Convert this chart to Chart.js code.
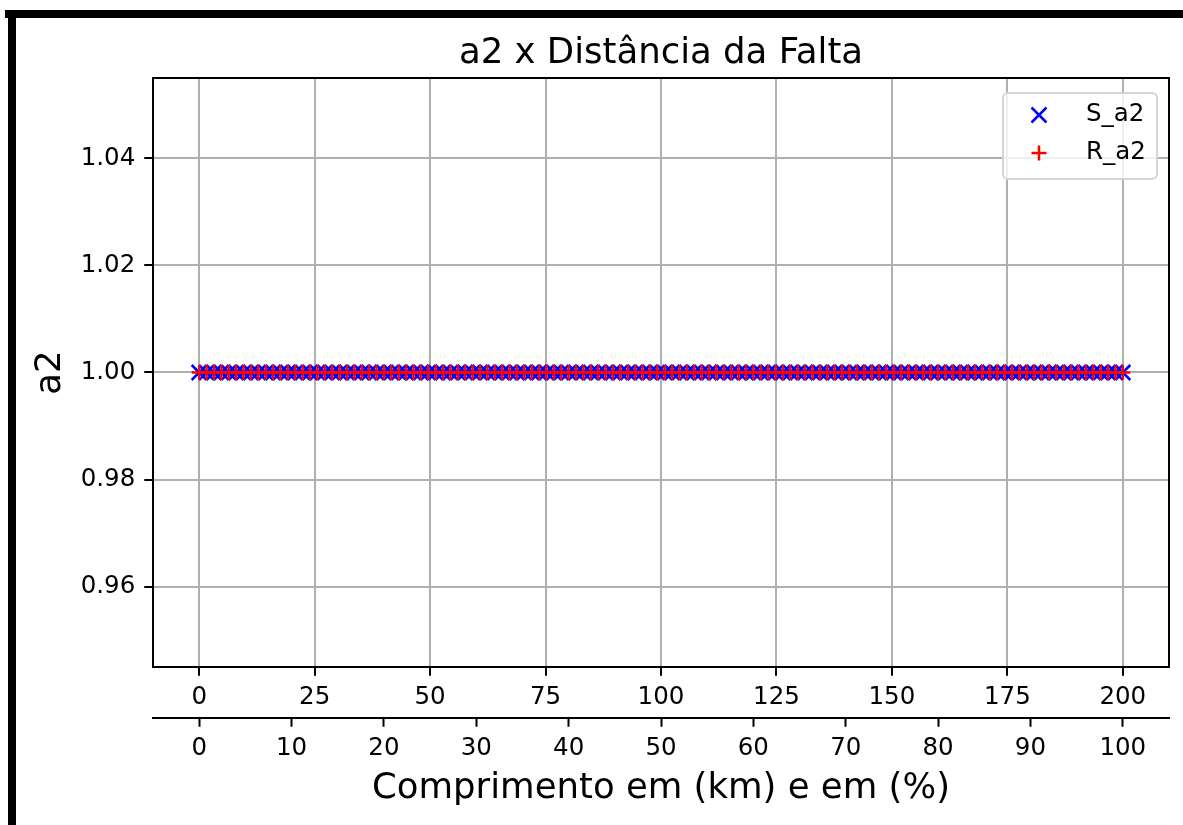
<!DOCTYPE html>
<html>
<head>
<meta charset="utf-8">
<script src="https://cdn.jsdelivr.net/npm/chart.js@4.4.0/dist/chart.umd.min.js"></script>
<style>
  html, body { margin: 0; padding: 0; background: #fff; overflow: hidden; }
  #wrap { position: relative; width: 1183px; height: 825px; }
  #chart { position: absolute; left: 0; top: 0; }
  .bar { position: absolute; background: #000; }
</style>
</head>
<body>
<div id="wrap">
  <canvas id="chart" width="1183" height="825"></canvas>
  <div class="bar" style="left:5px; top:10px; width:1178px; height:8px;"></div>
  <div class="bar" style="left:8px; top:10px; width:8px; height:815px;"></div>
</div>
<script>
// fault positions along the line (km)
const kmPoints = [
    0, 1.6, 3.2, 4.8, 6.4, 8, 9.6, 11.2, 12.8, 14.4,
    16, 17.6, 19.2, 20.8, 22.4, 24, 25.6, 27.2, 28.8, 30.4,
    32, 33.6, 35.2, 36.8, 38.4, 40, 41.6, 43.2, 44.8, 46.4,
    48, 49.6, 51.2, 52.8, 54.4, 56, 57.6, 59.2, 60.8, 62.4,
    64, 65.6, 67.2, 68.8, 70.4, 72, 73.6, 75.2, 76.8, 78.4,
    80, 81.6, 83.2, 84.8, 86.4, 88, 89.6, 91.2, 92.8, 94.4,
    96, 97.6, 99.2, 100.8, 102.4, 104, 105.6, 107.2, 108.8, 110.4,
    112, 113.6, 115.2, 116.8, 118.4, 120, 121.6, 123.2, 124.8, 126.4,
    128, 129.6, 131.2, 132.8, 134.4, 136, 137.6, 139.2, 140.8, 142.4,
    144, 145.6, 147.2, 148.8, 150.4, 152, 153.6, 155.2, 156.8, 158.4,
    160, 161.6, 163.2, 164.8, 166.4, 168, 169.6, 171.2, 172.8, 174.4,
    176, 177.6, 179.2, 180.8, 182.4, 184, 185.6, 187.2, 188.8, 190.4,
    192, 193.6, 195.2, 196.8, 198.4, 200
];

// a2 values, sending end (S) and receiving end (R)
const sA2 = [
    1, 1, 1, 1, 1, 1, 1, 1, 1, 1, 1, 1, 1, 1,
    1, 1, 1, 1, 1, 1, 1, 1, 1, 1, 1, 1, 1, 1,
    1, 1, 1, 1, 1, 1, 1, 1, 1, 1, 1, 1, 1, 1,
    1, 1, 1, 1, 1, 1, 1, 1, 1, 1, 1, 1, 1, 1,
    1, 1, 1, 1, 1, 1, 1, 1, 1, 1, 1, 1, 1, 1,
    1, 1, 1, 1, 1, 1, 1, 1, 1, 1, 1, 1, 1, 1,
    1, 1, 1, 1, 1, 1, 1, 1, 1, 1, 1, 1, 1, 1,
    1, 1, 1, 1, 1, 1, 1, 1, 1, 1, 1, 1, 1, 1,
    1, 1, 1, 1, 1, 1, 1, 1, 1, 1, 1, 1, 1, 1
];
const rA2 = [
    1, 1, 1, 1, 1, 1, 1, 1, 1, 1, 1, 1, 1, 1,
    1, 1, 1, 1, 1, 1, 1, 1, 1, 1, 1, 1, 1, 1,
    1, 1, 1, 1, 1, 1, 1, 1, 1, 1, 1, 1, 1, 1,
    1, 1, 1, 1, 1, 1, 1, 1, 1, 1, 1, 1, 1, 1,
    1, 1, 1, 1, 1, 1, 1, 1, 1, 1, 1, 1, 1, 1,
    1, 1, 1, 1, 1, 1, 1, 1, 1, 1, 1, 1, 1, 1,
    1, 1, 1, 1, 1, 1, 1, 1, 1, 1, 1, 1, 1, 1,
    1, 1, 1, 1, 1, 1, 1, 1, 1, 1, 1, 1, 1, 1,
    1, 1, 1, 1, 1, 1, 1, 1, 1, 1, 1, 1, 1, 1
];

// tick labels
const kmTicks = [0, 25, 50, 75, 100, 125, 150, 175, 200];
const pctTicks = [0, 10, 20, 30, 40, 50, 60, 70, 80, 90, 100];
const yTicks = [0.96, 0.98, 1.00, 1.02, 1.04];

const FONT = 'DejaVu Sans';
const TICK_PX = 24.5;
const LABEL_PX = 35.5;
const GRID = '#b0b0b0';

const toPoints = (ys) => ys.map((y, i) => ({ x: kmPoints[i], y }));

// spines + title drawn around the chart area, matplotlib style
const framePlugin = {
    id: 'frame',
    afterDatasetsDraw(chart) {
        const { ctx, chartArea: a } = chart;
        ctx.save();
        ctx.strokeStyle = '#000';
        ctx.lineWidth = 2;
        ctx.strokeRect(a.left, a.top, a.right - a.left, a.bottom - a.top);
        ctx.restore();
    },
    afterDraw(chart) {
        const { ctx, chartArea: a } = chart;
        ctx.save();
        ctx.fillStyle = '#000';
        ctx.font = `${LABEL_PX}px "${FONT}"`;
        ctx.textAlign = 'center';
        ctx.textBaseline = 'alphabetic';
        ctx.fillText('a2 x Distância da Falta', (a.left + a.right) / 2, a.top - 15);
        ctx.restore();
    }
};

// legend box in the upper right corner of the axes
const legendPlugin = {
    id: 'boxLegend',
    afterDraw(chart) {
        const { ctx, chartArea: a } = chart;
        const w = 154, h = 86;
        const x0 = a.right - 12 - w, y0 = a.top + 15;
        ctx.save();
        ctx.beginPath();
        ctx.roundRect(x0, y0, w, h, 5);
        ctx.fillStyle = 'rgba(255,255,255,0.8)';
        ctx.fill();
        ctx.strokeStyle = '#d4d4d4';
        ctx.lineWidth = 2;
        ctx.stroke();

        chart.data.datasets.forEach((ds, i) => {
            const cy = y0 + 22 + i * 38;
            const mx = x0 + 36;
            ctx.strokeStyle = ds.borderColor;
            ctx.lineWidth = 2.5;
            ctx.beginPath();
            if (ds.pointStyle === 'crossRot') {
                ctx.moveTo(mx - 7.5, cy - 7.5); ctx.lineTo(mx + 7.5, cy + 7.5);
                ctx.moveTo(mx - 7.5, cy + 7.5); ctx.lineTo(mx + 7.5, cy - 7.5);
            } else {
                ctx.moveTo(mx - 7.5, cy); ctx.lineTo(mx + 7.5, cy);
                ctx.moveTo(mx, cy - 7.5); ctx.lineTo(mx, cy + 7.5);
            }
            ctx.stroke();
            ctx.fillStyle = '#000';
            ctx.font = `${TICK_PX}px "${FONT}"`;
            ctx.textAlign = 'left';
            ctx.textBaseline = 'middle';
            ctx.fillText(ds.label, x0 + 83, cy);
        });
        ctx.restore();
    }
};

const tickFont = { family: FONT, size: TICK_PX };
const labelFont = { family: FONT, size: LABEL_PX };

new Chart(document.getElementById('chart'), {
    type: 'scatter',
    data: {
        datasets: [
            {
                label: 'S_a2',
                data: toPoints(sA2),
                pointStyle: 'crossRot',
                pointRadius: 10.6,
                borderColor: '#0000ff',
                backgroundColor: '#0000ff',
                pointBorderWidth: 2.5,
                order: 2
            },
            {
                label: 'R_a2',
                data: toPoints(rA2),
                pointStyle: 'cross',
                pointRadius: 7.5,
                borderColor: '#ff0000',
                backgroundColor: '#ff0000',
                pointBorderWidth: 2.5,
                order: 1
            }
        ]
    },
    options: {
        responsive: false,
        animation: false,
        events: [],
        layout: { padding: { top: 78, right: 14, bottom: 0, left: 0 } },
        plugins: {
            legend: { display: false },
            title: { display: false },
            tooltip: { enabled: false }
        },
        scales: {
            x: {
                type: 'linear',
                position: 'bottom',
                weight: 0,
                min: -10,
                max: 210,
                afterBuildTicks: (s) => { s.ticks = kmTicks.map(v => ({ value: v })); },
                afterFit: (s) => { s.height = 51; },
                ticks: { font: tickFont, color: '#000', padding: 7, maxRotation: 0 },
                grid: { color: GRID, lineWidth: 2, tickColor: '#000', tickLength: 8.75, tickWidth: 2 },
                border: { display: true, color: '#000', width: 2 }
            },
            x2: {
                type: 'linear',
                position: 'bottom',
                weight: 1,
                min: -5,
                max: 105,
                afterBuildTicks: (s) => { s.ticks = pctTicks.map(v => ({ value: v })); },
                afterFit: (s) => { s.height = 107; },
                ticks: { font: tickFont, color: '#000', padding: 7, maxRotation: 0 },
                grid: { drawOnChartArea: false, tickColor: '#000', tickLength: 8.75, tickWidth: 2 },
                border: { display: true, color: '#000', width: 2 },
                title: {
                    display: true,
                    text: 'Comprimento em (km) e em (%)',
                    font: labelFont,
                    color: '#000',
                    padding: { top: 0, bottom: 15 }
                }
            },
            y: {
                type: 'linear',
                min: 0.945,
                max: 1.055,
                afterBuildTicks: (s) => { s.ticks = yTicks.map(v => ({ value: v })); },
                afterFit: (s) => { s.width = 153; },
                ticks: {
                    font: tickFont,
                    color: '#000',
                    padding: 9,
                    callback: (v) => Number(v).toFixed(2)
                },
                grid: { color: GRID, lineWidth: 2, tickColor: '#000', tickLength: 8.75, tickWidth: 2 },
                border: { display: true, color: '#000', width: 2 },
                title: {
                    display: true,
                    text: 'a2',
                    font: labelFont,
                    color: '#000',
                    padding: { top: 29, bottom: 0 }
                }
            }
        }
    },
    plugins: [framePlugin, legendPlugin]
});
</script>
</body>
</html>
